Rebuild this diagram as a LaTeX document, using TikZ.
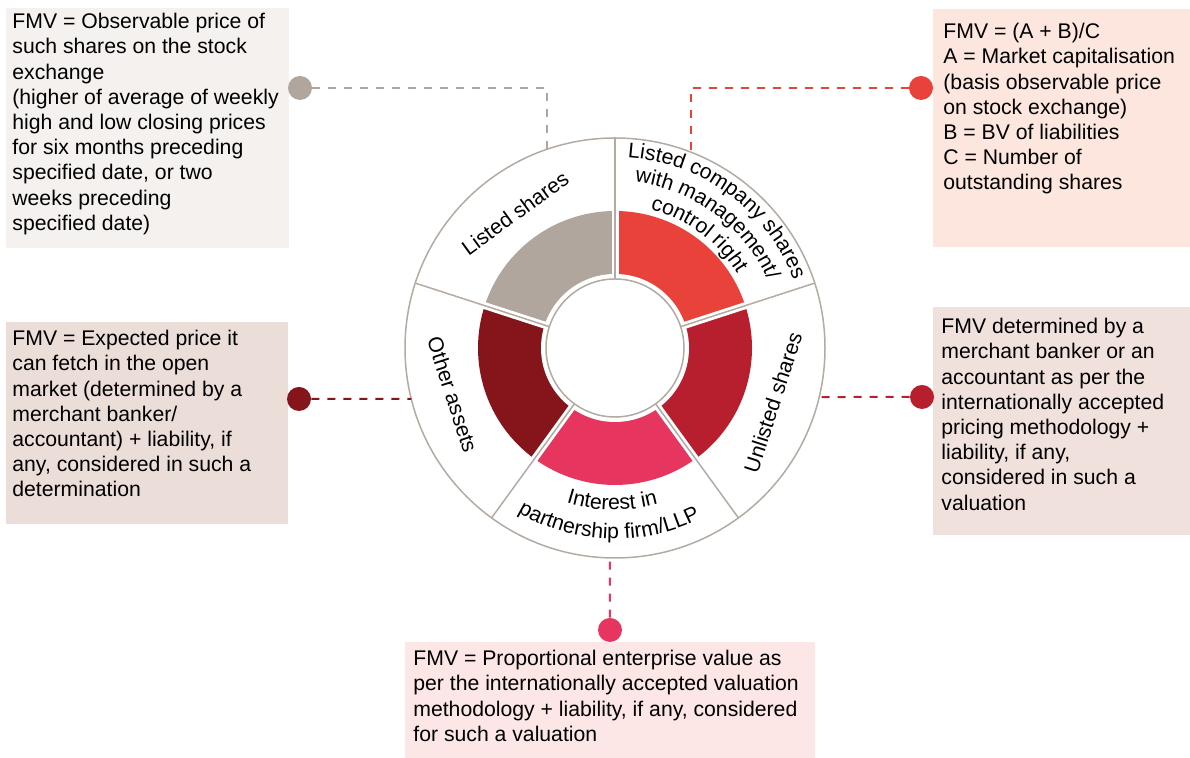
\documentclass[tikz,border=0pt]{standalone}
\usepackage{fontspec}
\setmainfont{Liberation Sans}
\usepackage{tikz}
\usetikzlibrary{positioning,calc,decorations.text}

\definecolor{segGrey}{HTML}{B1A69D}
\definecolor{segOrange}{HTML}{E8423A}
\definecolor{segRed}{HTML}{B71F2E}
\definecolor{segPink}{HTML}{E6355F}
\definecolor{segDark}{HTML}{85151B}
\definecolor{ringLine}{HTML}{B3AAA2}
\definecolor{boxGrey}{HTML}{F4F1EF}
\definecolor{boxPeach}{HTML}{FCE6DE}
\definecolor{boxRose}{HTML}{EBDDD7}
\definecolor{boxBlush}{HTML}{F1E1DC}
\definecolor{boxPink}{HTML}{FCE6E6}

\newcommand{\segfont}{\fontsize{10.6}{12.6}\selectfont}

\tikzset{
  fmvtext/.style={anchor=north west, inner sep=0pt, align=left, font=\segfont},
  fmvdot/.style={circle, fill=#1, inner sep=0pt, minimum size=12pt},
  fmvlink/.style={draw=#1, line width=1pt, dash pattern=on 4pt off 4pt},
  seglabel/.style={font=\segfont, inner sep=0pt},
}

\begin{document}
\begin{tikzpicture}[x=0.5pt,y=0.5pt]
      \useasboundingbox (0,0) rectangle (1190,758);
      % Boxes
      \fill[boxGrey] (6,510) rectangle (289,750);
      \fill[boxPeach] (933,511) rectangle (1190,749);
      \fill[boxRose] (6,234) rectangle (288,436);
      \fill[boxBlush] (933,223) rectangle (1190,451);
      \fill[boxPink] (405,0) rectangle (815,116);
      \node[fmvtext] (tLS) at (12,745) {FMV = Observable price of\\such shares on the stock\\exchange\\(higher of average of weekly\\high and low closing prices\\for six months preceding\\specified date, or two\\weeks preceding\\specified date)};
      \node[fmvtext] (tLC) at (943,735) {FMV = (A + B)/C\\A = Market capitalisation\\(basis observable price\\on stock exchange)\\B = BV of liabilities\\C = Number of\\outstanding shares};
      \node[fmvtext] (tOA) at (12,428) {FMV = Expected price it\\can fetch in the open\\market (determined by a\\merchant banker/\\accountant) + liability, if\\any, considered in such a\\determination};
      \node[fmvtext] (tUL) at (941,440) {FMV determined by a\\merchant banker or an\\accountant as per the\\internationally accepted\\pricing methodology +\\liability, if any,\\considered in such a\\valuation};
      \node[fmvtext] (tIP) at (413,108) {FMV = Proportional enterprise value as\\per the internationally accepted valuation\\methodology + liability, if any, considered\\for such a valuation};
      % Ring
      \coordinate (C) at (615,410);
      \foreach \a/\c [evaluate=\a as \b using \a+72] in {90/segGrey, 18/segOrange, -54/segRed, -126/segPink, 162/segDark}
        \fill[\c] ($(C)+(\a:137)$) arc[start angle=\a, end angle=\b, radius=137] -- ($(C)+(\b:70)$) arc[start angle=\b, end angle=\a, radius=70] -- cycle;
      \foreach \a in {90,18,-54,-126,162}
        \draw[white, line width=3.5pt] ($(C)+(\a:60)$) -- ($(C)+(\a:140)$);
      \fill[white] (C) circle[radius=74];
      \draw[ringLine, line width=0.75pt] (C) circle[radius=69];
      \draw[ringLine, line width=0.75pt] (C) circle[radius=210];
      \foreach \a in {90,18,-54,-126,162}
        \draw[ringLine, line width=0.75pt] ($(C)+(\a:69)$) -- ($(C)+(\a:210)$);
      % Ring labels
      \node[seglabel, rotate=36] (lLS) at ($(C)+(126.5:168)$) {Listed shares};
      \node[seglabel, rotate=72] (lUL) at ($(C)+(-19:167)$) {Unlisted shares};
      \node[seglabel, rotate=-72] (lOA) at ($(C)+(196:169)$) {Other assets};
      \path[decorate, decoration={text along path, text align=center, text={|\segfont|Listed company shares}}]
        ($(C)+(94:191)$) arc[start angle=94, end angle=13, radius=191];
      \path[decorate, decoration={text along path, text align=center, text={|\segfont|with management/}}]
        ($(C)+(94:167)$) arc[start angle=94, end angle=13, radius=167];
      \path[decorate, decoration={text along path, text align=center, text={|\segfont|control right}}]
        ($(C)+(94:143)$) arc[start angle=94, end angle=13, radius=143];
      \path[decorate, decoration={text along path, text align=center, text={|\segfont|Interest in}}]
        ($(C)+(-131:162)$) arc[start angle=-131, end angle=-51, radius=162];
      \path[decorate, decoration={text along path, text align=center, text={|\segfont|partnership firm/LLP}}]
        ($(C)+(-133:191)$) arc[start angle=-133, end angle=-51, radius=191];
      % Dots
      \node[fmvdot=segGrey] (dLS) at (300,670) {};
      \node[fmvdot=segOrange] (dLC) at (921,670) {};
      \node[fmvdot=segDark] (dOA) at (299,359) {};
      \node[fmvdot=segRed] (dUL) at (922,361) {};
      \node[fmvdot=segPink] (dIP) at (610,128) {};
      % Links
      \coordinate (eLS) at ($(C)+(108.9:210)$);
      \coordinate (eLC) at ($(C)+(68.8:210)$);
      \coordinate (eOA) at ($(C)+(194.05:210)$);
      \coordinate (eUL) at ($(C)+(-13.5:210)$);
      \coordinate (eIP) at ($(C)+(-91.4:210)$);
      \draw[fmvlink=segGrey] (dLS) -| (eLS);
      \draw[fmvlink=segOrange] (dLC) -| (eLC);
      \draw[fmvlink=segDark] (dOA) -- (eOA);
      \draw[fmvlink=segRed] (dUL) -- (eUL);
      \draw[fmvlink=segPink] (dIP) -- (eIP);
    \end{tikzpicture}
\end{document}
